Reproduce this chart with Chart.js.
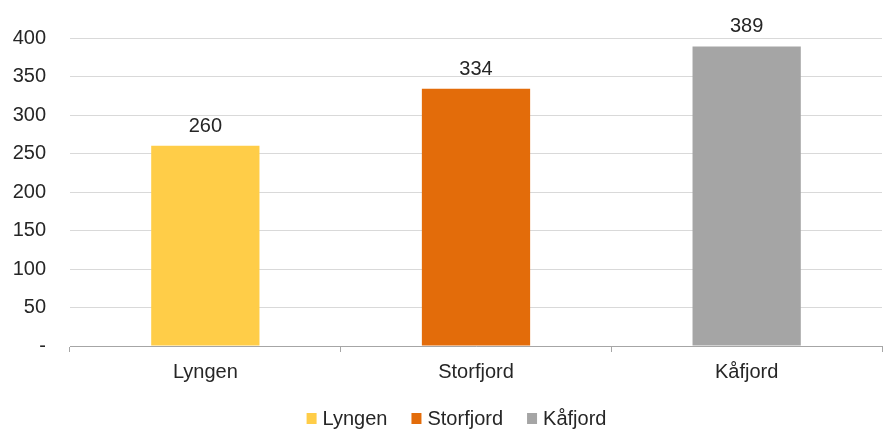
<!DOCTYPE html>
<html>
<head>
<meta charset="utf-8">
<script src="https://cdn.jsdelivr.net/npm/chart.js@4.4.1/dist/chart.umd.min.js"></script>
<style>
  html, body { margin: 0; padding: 0; background: #fff; }
  #wrap { width: 883px; height: 431px; }
</style>
</head>
<body>
<div id="wrap"><canvas id="c" width="883" height="431"></canvas></div>
<script>
/* Kommuner og verdier */
const kategorier = ["Lyngen", "Storfjord", "Kåfjord"];
const verdier = [260, 334, 389];
const farger = ["#ffcd48", "#e36c0a", "#a5a5a5"];
const yTicks = [0, 50, 100, 150, 200, 250, 300, 350, 400];

const FONT = "'Liberation Sans', Arial, sans-serif";
const FS = 20;
const TEKST = "#262626";

/* Etiketter over søylene */
const verdiEtiketter = {
    id: "verdiEtiketter",
    afterDatasetsDraw(chart) {
        const ctx = chart.ctx;
        const meta = chart.getDatasetMeta(0);
        ctx.save();
        ctx.font = FS + "px " + FONT;
        ctx.fillStyle = TEKST;
        ctx.textAlign = "center";
        ctx.textBaseline = "alphabetic";
        meta.data.forEach((bar, i) => {
            ctx.fillText(verdier[i], bar.x, bar.y - 14);
        });
        ctx.restore();
    }
};

/* Forklaring nederst (egen tegning for å styre avstandene) */
const forklaring = {
    id: "forklaring",
    afterDraw(chart) {
        const ctx = chart.ctx;
        ctx.save();
        ctx.font = FS + "px " + FONT;
        ctx.textBaseline = "middle";
        ctx.textAlign = "left";

        const boks = 10, gapTekst = 6, gapItem = 24;
        const bredder = kategorier.map(k => ctx.measureText(k).width);
        let total = 0;
        bredder.forEach((b, i) => {
            total += boks + gapTekst + b + (i < bredder.length - 1 ? gapItem : 0);
        });

        let x = chart.width / 2 + 15 - total / 2;
        const y = chart.height - 12;
        kategorier.forEach((k, i) => {
            ctx.fillStyle = farger[i];
            ctx.fillRect(x, y - boks / 2 - 1, boks, boks + 1);
            x += boks + gapTekst;
            ctx.fillStyle = TEKST;
            ctx.fillText(k, x, y);
            x += bredder[i] + gapItem;
        });
        ctx.restore();
    }
};

new Chart(document.getElementById("c"), {
    type: "bar",
    data: {
        labels: kategorier,
        datasets: [{
            data: verdier,
            backgroundColor: farger,
            categoryPercentage: 0.4,
            barPercentage: 1
        }]
    },
    options: {
        responsive: false,
        animation: false,
        layout: { padding: { top: 38, right: 1, left: 0, bottom: 39 } },
        plugins: {
            tooltip: { enabled: false },
            legend: { display: false }
        },
        scales: {
            x: {
                offset: true,
                grid: {
                    offset: true,
                    drawOnChartArea: false,
                    drawTicks: true,
                    tickLength: 6,
                    color: "#a6a6a6"
                },
                border: { color: "#a6a6a6", width: 1 },
                ticks: {
                    color: TEKST,
                    font: { size: FS, family: FONT },
                    padding: 8
                }
            },
            y: {
                min: 0,
                max: 400,
                afterBuildTicks: axis => {
                    axis.ticks = yTicks.map(v => ({ value: v }));
                },
                afterFit: axis => {
                    axis.width = 70;
                },
                grid: {
                    color: "#d9d9d9",
                    drawTicks: false
                },
                border: { display: false },
                ticks: {
                    color: TEKST,
                    font: { size: FS, family: FONT },
                    padding: 24,
                    callback: v => (v === 0 ? "-" : v)
                }
            }
        }
    },
    plugins: [verdiEtiketter, forklaring]
});
</script>
</body>
</html>
